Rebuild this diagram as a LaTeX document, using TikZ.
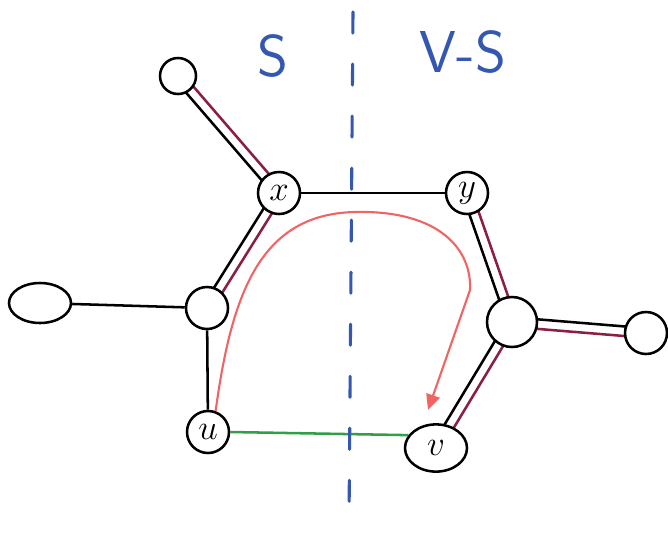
\documentclass[tikz,border=0pt]{standalone}
\usepackage{tikz}
\usetikzlibrary{arrows.meta,calc,backgrounds,shapes.geometric,positioning}
\definecolor{inkblue}{HTML}{3458B0}
\definecolor{maroon}{HTML}{8A1F40}
\definecolor{salmon}{HTML}{F06464}
\definecolor{leafgreen}{HTML}{2FA045}
\tikzset{
  >=Stealth,
  vx/.style={circle,draw,line width=1.8pt,fill=white,inner sep=0pt,minimum size=1.05cm,font=\fontsize{24}{24}\selectfont},
  leaf/.style={circle,draw,line width=1.8pt,fill=white,inner sep=0pt,minimum size=0.9cm},
  edge/.style={line width=1.8pt},
  cut/.style={inkblue,line width=2.2pt,line cap=round,dash pattern=on 15pt off 22pt},
  lbl/.style={inkblue,font=\sffamily\fontsize{42}{42}\selectfont},
  walk/.style={salmon,line width=1.5pt,-{Triangle[length=11pt,width=10pt]}}
}
% black strand on one side, maroon strand on the other
\newcommand{\twin}[2]{%
  \draw[edge] ($(#1)!3.4pt!-90:(#2)$) -- ($(#2)!3.4pt!90:(#1)$);
  \draw[edge,maroon] ($(#1)!3.4pt!90:(#2)$) -- ($(#2)!3.4pt!-90:(#1)$);
}
\begin{document}
\begin{tikzpicture}[x=0.025cm,y=-0.025cm]
    \useasboundingbox (0,0) rectangle (668,547);

    % Vertices
    \node[leaf] (top) at (178,76) {};
    \node[vx] (x) at (279,193) {$x$};
    \node[vx] (y) at (467,193) {$y$};
    \node[leaf,minimum size=1.05cm] (a) at (207,308) {};
    \node[leaf,ellipse,minimum width=1.55cm,minimum height=1cm] (l) at (40,303) {};
    \node[vx] (u) at (208,432) {$u$};
    \node[leaf,minimum size=1.25cm] (b) at (512,322) {};
    \node[leaf,minimum size=1.05cm] (r) at (646,333) {};
    \node[vx,ellipse,minimum width=1.55cm,minimum height=1.18cm] (v) at (436,448) {$v$};

    % Cut labels
    \node[lbl] (s) at (273,56) {S};
    \node[lbl] (vs) at (463,52) {V-S};

    % Edges, behind the vertices
    \begin{scope}[on background layer]
      \twin{top}{x}
      \twin{x}{a}
      \twin{y}{b}
      \twin{r}{b}
      \twin{b}{v}
      \draw[edge] (x) -- (y);
      \draw[edge] (a) -- (l);
      \draw[edge] (a) -- (u);
      \draw[edge,leafgreen] (u.east) -- (v.155);
      % The cut
      \coordinate (cuttop) at (353,12);
      \coordinate (cutbot) at (349,522);
      \draw[cut] (cuttop) -- (cutbot);
    \end{scope}

    % Path from u round to v
    \coordinate (tip) at (428,410);
    \draw[walk] (u.70) .. controls (232,290) and (262,214) .. (355,212)
      .. controls (440,210) and (472,250) .. (470,290) -- (tip);

\end{tikzpicture}
\end{document}
